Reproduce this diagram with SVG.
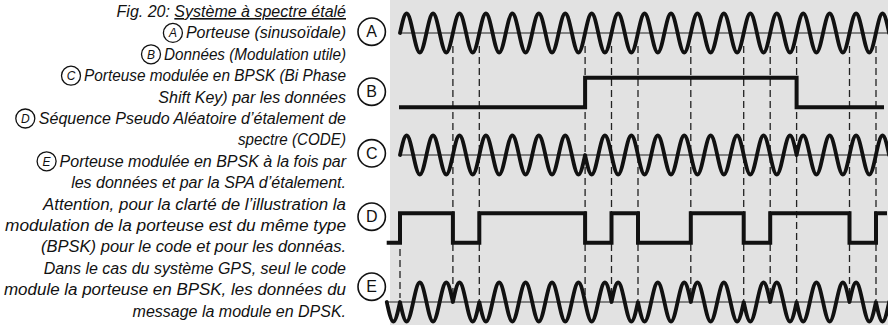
<svg xmlns="http://www.w3.org/2000/svg" width="888" height="325" viewBox="0 0 888 325">
<style>
.cap{font-family:"Liberation Sans",Arial,sans-serif;font-style:italic;font-size:16px;fill:#111;text-anchor:end}
.cl{font-family:"Liberation Sans",Arial,sans-serif;font-style:italic;font-size:12px;fill:#111;text-anchor:middle}
.lbl{font-family:"Liberation Sans",Arial,sans-serif;font-size:16px;fill:#111;text-anchor:middle}
.ring{fill:none;stroke:#111;stroke-width:1.6}
.ringS{fill:none;stroke:#111;stroke-width:1.3}
.wave{fill:none;stroke:#111;stroke-width:3.8;stroke-linejoin:round;stroke-linecap:round}
.sq{fill:none;stroke:#111;stroke-width:4;stroke-linejoin:miter}
.base{stroke:#222;stroke-width:1.2}
.dash{stroke:#222;stroke-width:1.3;stroke-dasharray:7 4}
</style>
<rect x="390" y="0" width="498" height="325" fill="#e2e2e2"/>
<g id="caption">
<text class="cap" x="346" y="17">Fig. 20: <tspan text-decoration="underline">Système à spectre étalé</tspan></text>
<circle class="ringS" cx="172.9" cy="32.9" r="9.5"/><text class="cl" x="172.9" y="37.2">A</text>
<text class="cap" x="346" y="38.4">Porteuse (sinusoïdale)</text>
<circle class="ringS" cx="151" cy="54.3" r="9.5"/><text class="cl" x="151" y="58.6">B</text>
<text class="cap" x="346" y="59.8" textLength="182" lengthAdjust="spacingAndGlyphs">Données (Modulation utile)</text>
<circle class="ringS" cx="71" cy="75.7" r="9.5"/><text class="cl" x="71" y="80">C</text>
<text class="cap" x="346" y="81.2" textLength="262" lengthAdjust="spacingAndGlyphs">Porteuse modulée en BPSK (Bi Phase</text>
<text class="cap" x="346" y="102.6">Shift Key) par les données</text>
<circle class="ringS" cx="25.3" cy="118.5" r="9.5"/><text class="cl" x="25.3" y="122.8">D</text>
<text class="cap" x="346" y="124">Séquence Pseudo Aléatoire d’étalement de</text>
<text class="cap" x="346" y="145.4" textLength="108" lengthAdjust="spacingAndGlyphs">spectre (CODE)</text>
<circle class="ringS" cx="46.6" cy="161.3" r="9.5"/><text class="cl" x="46.6" y="165.6">E</text>
<text class="cap" x="346" y="166.8">Porteuse modulée en BPSK à la fois par</text>
<text class="cap" x="346" y="188.2">les données et par la SPA d’étalement.</text>
<text class="cap" x="346" y="209.6" textLength="303" lengthAdjust="spacingAndGlyphs">Attention, pour la clarté de l’illustration la</text>
<text class="cap" x="346" y="231" textLength="341" lengthAdjust="spacingAndGlyphs">modulation de la porteuse est du même type</text>
<text class="cap" x="346" y="252.4" textLength="305" lengthAdjust="spacingAndGlyphs">(BPSK) pour le code et pour les donnéas.</text>
<text class="cap" x="346" y="273.8">Dans le cas du système GPS, seul le code</text>
<text class="cap" x="346" y="295.2" textLength="342" lengthAdjust="spacingAndGlyphs">module la porteuse en BPSK, les données du</text>
<text class="cap" x="346" y="316.6">message la module en DPSK.</text>
</g>
<g id="labelA"><circle class="ring" cx="371.7" cy="31.7" r="13.7"/><text class="lbl" x="371.7" y="37.4">A</text></g>
<g id="labelB"><circle class="ring" cx="371.7" cy="91.7" r="13.7"/><text class="lbl" x="371.7" y="97.4">B</text></g>
<g id="labelC"><circle class="ring" cx="371.7" cy="153.3" r="13.7"/><text class="lbl" x="371.7" y="159">C</text></g>
<g id="labelD"><circle class="ring" cx="371.7" cy="216.7" r="13.7"/><text class="lbl" x="371.7" y="222.4">D</text></g>
<g id="labelE"><circle class="ring" cx="371.7" cy="286.7" r="13.7"/><text class="lbl" x="371.7" y="292.4">E</text></g>
<g id="connectors">
<line class="dash" x1="400" y1="249" x2="400" y2="298"/>
<line class="dash" x1="452.9" y1="46" x2="452.9" y2="300"/>
<line class="dash" x1="479.3" y1="46" x2="479.3" y2="300"/>
<line class="dash" x1="585.1" y1="46" x2="585.1" y2="300"/>
<line class="dash" x1="611.5" y1="46" x2="611.5" y2="300"/>
<line class="dash" x1="638" y1="46" x2="638" y2="300"/>
<line class="dash" x1="690.8" y1="46" x2="690.8" y2="300"/>
<line class="dash" x1="743.7" y1="46" x2="743.7" y2="300"/>
<line class="dash" x1="770.2" y1="46" x2="770.2" y2="300"/>
<line class="dash" x1="796.6" y1="46" x2="796.6" y2="300"/>
<line class="dash" x1="849.5" y1="46" x2="849.5" y2="300"/>
<line class="dash" x1="876" y1="46" x2="876" y2="300"/>
</g>
<g id="traceA">
<line class="base" x1="399" y1="33" x2="888" y2="33"/>
<path class="wave" d="M400,33
c2.16,-9.99 4.22,-19.5 6.61,-19.5 c2.39,0 4.45,9.51 6.61,19.5 c2.16,9.99 4.22,19.5 6.61,19.5 c2.39,0 4.45,-9.51 6.61,-19.5
c2.16,-9.99 4.22,-19.5 6.61,-19.5 c2.39,0 4.45,9.51 6.61,19.5 c2.16,9.99 4.22,19.5 6.61,19.5 c2.39,0 4.45,-9.51 6.61,-19.5
c2.16,-9.99 4.22,-19.5 6.61,-19.5 c2.39,0 4.45,9.51 6.61,19.5 c2.16,9.99 4.22,19.5 6.61,19.5 c2.39,0 4.45,-9.51 6.61,-19.5
c2.16,-9.99 4.22,-19.5 6.61,-19.5 c2.39,0 4.45,9.51 6.61,19.5 c2.16,9.99 4.22,19.5 6.61,19.5 c2.39,0 4.45,-9.51 6.61,-19.5
c2.16,-9.99 4.22,-19.5 6.61,-19.5 c2.39,0 4.45,9.51 6.61,19.5 c2.16,9.99 4.22,19.5 6.61,19.5 c2.39,0 4.45,-9.51 6.61,-19.5
c2.16,-9.99 4.22,-19.5 6.61,-19.5 c2.39,0 4.45,9.51 6.61,19.5 c2.16,9.99 4.22,19.5 6.61,19.5 c2.39,0 4.45,-9.51 6.61,-19.5
c2.16,-9.99 4.22,-19.5 6.61,-19.5 c2.39,0 4.45,9.51 6.61,19.5 c2.16,9.99 4.22,19.5 6.61,19.5 c2.39,0 4.45,-9.51 6.61,-19.5
c2.16,-9.99 4.22,-19.5 6.61,-19.5 c2.39,0 4.45,9.51 6.61,19.5 c2.16,9.99 4.22,19.5 6.61,19.5 c2.39,0 4.45,-9.51 6.61,-19.5
c2.16,-9.99 4.22,-19.5 6.61,-19.5 c2.39,0 4.45,9.51 6.61,19.5 c2.16,9.99 4.22,19.5 6.61,19.5 c2.39,0 4.45,-9.51 6.61,-19.5
c2.16,-9.99 4.22,-19.5 6.61,-19.5 c2.39,0 4.45,9.51 6.61,19.5 c2.16,9.99 4.22,19.5 6.61,19.5 c2.39,0 4.45,-9.51 6.61,-19.5
c2.16,-9.99 4.22,-19.5 6.61,-19.5 c2.39,0 4.45,9.51 6.61,19.5 c2.16,9.99 4.22,19.5 6.61,19.5 c2.39,0 4.45,-9.51 6.61,-19.5
c2.16,-9.99 4.22,-19.5 6.61,-19.5 c2.39,0 4.45,9.51 6.61,19.5 c2.16,9.99 4.22,19.5 6.61,19.5 c2.39,0 4.45,-9.51 6.61,-19.5
c2.16,-9.99 4.22,-19.5 6.61,-19.5 c2.39,0 4.45,9.51 6.61,19.5 c2.16,9.99 4.22,19.5 6.61,19.5 c2.39,0 4.45,-9.51 6.61,-19.5
c2.16,-9.99 4.22,-19.5 6.61,-19.5 c2.39,0 4.45,9.51 6.61,19.5 c2.16,9.99 4.22,19.5 6.61,19.5 c2.39,0 4.45,-9.51 6.61,-19.5
c2.16,-9.99 4.22,-19.5 6.61,-19.5 c2.39,0 4.45,9.51 6.61,19.5 c2.16,9.99 4.22,19.5 6.61,19.5 c2.39,0 4.45,-9.51 6.61,-19.5
c2.16,-9.99 4.22,-19.5 6.61,-19.5 c2.39,0 4.45,9.51 6.61,19.5 c2.16,9.99 4.22,19.5 6.61,19.5 c2.39,0 4.45,-9.51 6.61,-19.5
c2.16,-9.99 4.22,-19.5 6.61,-19.5 c2.39,0 4.45,9.51 6.61,19.5 c2.16,9.99 4.22,19.5 6.61,19.5 c2.39,0 4.45,-9.51 6.61,-19.5
c2.16,-9.99 4.22,-19.5 6.61,-19.5 c2.39,0 4.45,9.51 6.61,19.5 c2.16,9.99 4.22,19.5 6.61,19.5 c2.39,0 4.45,-9.51 6.61,-19.5
c2.16,-9.99 4.22,-19.5 6.61,-19.5 c2.39,0 4.45,9.51 6.61,19.5"/>
</g>
<g id="traceB">
<path class="sq" d="M399,107.3 H585.1 V77.7 H796.6 V107.3 H884"/>
</g>
<g id="traceC">
<line class="base" x1="399" y1="155" x2="888" y2="155"/>
<path class="wave" d="M400,155
c2.16,-9.99 4.22,-19.5 6.61,-19.5 c2.39,0 4.45,9.51 6.61,19.5 c2.16,9.99 4.22,19.5 6.61,19.5 c2.39,0 4.45,-9.51 6.61,-19.5
c2.16,-9.99 4.22,-19.5 6.61,-19.5 c2.39,0 4.45,9.51 6.61,19.5 c2.16,9.99 4.22,19.5 6.61,19.5 c2.39,0 4.45,-9.51 6.61,-19.5
c2.16,-9.99 4.22,-19.5 6.61,-19.5 c2.39,0 4.45,9.51 6.61,19.5 c2.16,9.99 4.22,19.5 6.61,19.5 c2.39,0 4.45,-9.51 6.61,-19.5
c2.16,-9.99 4.22,-19.5 6.61,-19.5 c2.39,0 4.45,9.51 6.61,19.5 c2.16,9.99 4.22,19.5 6.61,19.5 c2.39,0 4.45,-9.51 6.61,-19.5
c2.16,-9.99 4.22,-19.5 6.61,-19.5 c2.39,0 4.45,9.51 6.61,19.5 c2.16,9.99 4.22,19.5 6.61,19.5 c2.39,0 4.45,-9.51 6.61,-19.5
c2.16,-9.99 4.22,-19.5 6.61,-19.5 c2.39,0 4.45,9.51 6.61,19.5 c2.16,9.99 4.22,19.5 6.61,19.5 c2.39,0 4.45,-9.51 6.61,-19.5
c2.16,-9.99 4.22,-19.5 6.61,-19.5 c2.39,0 4.45,9.51 6.61,19.5 c2.16,9.99 4.22,19.5 6.61,19.5 c2.39,0 4.45,-9.51 6.61,-19.5
c2.16,9.99 4.22,19.5 6.61,19.5 c2.39,0 4.45,-9.51 6.61,-19.5 c2.16,-9.99 4.22,-19.5 6.61,-19.5 c2.39,0 4.45,9.51 6.61,19.5
c2.16,9.99 4.22,19.5 6.61,19.5 c2.39,0 4.45,-9.51 6.61,-19.5 c2.16,-9.99 4.22,-19.5 6.61,-19.5 c2.39,0 4.45,9.51 6.61,19.5
c2.16,9.99 4.22,19.5 6.61,19.5 c2.39,0 4.45,-9.51 6.61,-19.5 c2.16,-9.99 4.22,-19.5 6.61,-19.5 c2.39,0 4.45,9.51 6.61,19.5
c2.16,9.99 4.22,19.5 6.61,19.5 c2.39,0 4.45,-9.51 6.61,-19.5 c2.16,-9.99 4.22,-19.5 6.61,-19.5 c2.39,0 4.45,9.51 6.61,19.5
c2.16,9.99 4.22,19.5 6.61,19.5 c2.39,0 4.45,-9.51 6.61,-19.5 c2.16,-9.99 4.22,-19.5 6.61,-19.5 c2.39,0 4.45,9.51 6.61,19.5
c2.16,9.99 4.22,19.5 6.61,19.5 c2.39,0 4.45,-9.51 6.61,-19.5 c2.16,-9.99 4.22,-19.5 6.61,-19.5 c2.39,0 4.45,9.51 6.61,19.5
c2.16,9.99 4.22,19.5 6.61,19.5 c2.39,0 4.45,-9.51 6.61,-19.5 c2.16,-9.99 4.22,-19.5 6.61,-19.5 c2.39,0 4.45,9.51 6.61,19.5
c2.16,9.99 4.22,19.5 6.61,19.5 c2.39,0 4.45,-9.51 6.61,-19.5 c2.16,-9.99 4.22,-19.5 6.61,-19.5 c2.39,0 4.45,9.51 6.61,19.5
c2.16,-9.99 4.22,-19.5 6.61,-19.5 c2.39,0 4.45,9.51 6.61,19.5 c2.16,9.99 4.22,19.5 6.61,19.5 c2.39,0 4.45,-9.51 6.61,-19.5
c2.16,-9.99 4.22,-19.5 6.61,-19.5 c2.39,0 4.45,9.51 6.61,19.5 c2.16,9.99 4.22,19.5 6.61,19.5 c2.39,0 4.45,-9.51 6.61,-19.5
c2.16,-9.99 4.22,-19.5 6.61,-19.5 c2.39,0 4.45,9.51 6.61,19.5 c2.16,9.99 4.22,19.5 6.61,19.5 c2.39,0 4.45,-9.51 6.61,-19.5
c2.16,-9.99 4.22,-19.5 6.61,-19.5 c2.39,0 4.45,9.51 6.61,19.5"/>
</g>
<g id="traceD">
<path class="sq" d="M386.7,242.7 H400 V213.3 H452.9 V242.7 H479.3 V213.3 H585.1 V242.7 H611.5 V213.3 H638 V242.7 H690.8 V213.3 H743.7 V242.7 H770.2 V213.3 H849.5 V242.7 H876 V213.3 H887"/>
</g>
<g id="traceE">
<line class="base" x1="386.7" y1="302" x2="888" y2="302"/>
<path class="wave" d="M386.78,302
c2.16,9.99 4.22,19.5 6.61,19.5 c2.39,0 4.45,-9.51 6.61,-19.5
c2.16,9.99 4.22,19.5 6.61,19.5 c2.39,0 4.45,-9.51 6.61,-19.5 c2.16,-9.99 4.22,-19.5 6.61,-19.5 c2.39,0 4.45,9.51 6.61,19.5
c2.16,9.99 4.22,19.5 6.61,19.5 c2.39,0 4.45,-9.51 6.61,-19.5 c2.16,-9.99 4.22,-19.5 6.61,-19.5 c2.39,0 4.45,9.51 6.61,19.5
c2.16,-9.99 4.22,-19.5 6.61,-19.5 c2.39,0 4.45,9.51 6.61,19.5 c2.16,9.99 4.22,19.5 6.61,19.5 c2.39,0 4.45,-9.51 6.61,-19.5
c2.16,9.99 4.22,19.5 6.61,19.5 c2.39,0 4.45,-9.51 6.61,-19.5 c2.16,-9.99 4.22,-19.5 6.61,-19.5 c2.39,0 4.45,9.51 6.61,19.5
c2.16,9.99 4.22,19.5 6.61,19.5 c2.39,0 4.45,-9.51 6.61,-19.5 c2.16,-9.99 4.22,-19.5 6.61,-19.5 c2.39,0 4.45,9.51 6.61,19.5
c2.16,9.99 4.22,19.5 6.61,19.5 c2.39,0 4.45,-9.51 6.61,-19.5 c2.16,-9.99 4.22,-19.5 6.61,-19.5 c2.39,0 4.45,9.51 6.61,19.5
c2.16,9.99 4.22,19.5 6.61,19.5 c2.39,0 4.45,-9.51 6.61,-19.5 c2.16,-9.99 4.22,-19.5 6.61,-19.5 c2.39,0 4.45,9.51 6.61,19.5
c2.16,9.99 4.22,19.5 6.61,19.5 c2.39,0 4.45,-9.51 6.61,-19.5 c2.16,-9.99 4.22,-19.5 6.61,-19.5 c2.39,0 4.45,9.51 6.61,19.5
c2.16,-9.99 4.22,-19.5 6.61,-19.5 c2.39,0 4.45,9.51 6.61,19.5 c2.16,9.99 4.22,19.5 6.61,19.5 c2.39,0 4.45,-9.51 6.61,-19.5
c2.16,9.99 4.22,19.5 6.61,19.5 c2.39,0 4.45,-9.51 6.61,-19.5 c2.16,-9.99 4.22,-19.5 6.61,-19.5 c2.39,0 4.45,9.51 6.61,19.5
c2.16,9.99 4.22,19.5 6.61,19.5 c2.39,0 4.45,-9.51 6.61,-19.5 c2.16,-9.99 4.22,-19.5 6.61,-19.5 c2.39,0 4.45,9.51 6.61,19.5
c2.16,-9.99 4.22,-19.5 6.61,-19.5 c2.39,0 4.45,9.51 6.61,19.5 c2.16,9.99 4.22,19.5 6.61,19.5 c2.39,0 4.45,-9.51 6.61,-19.5
c2.16,-9.99 4.22,-19.5 6.61,-19.5 c2.39,0 4.45,9.51 6.61,19.5 c2.16,9.99 4.22,19.5 6.61,19.5 c2.39,0 4.45,-9.51 6.61,-19.5
c2.16,9.99 4.22,19.5 6.61,19.5 c2.39,0 4.45,-9.51 6.61,-19.5 c2.16,-9.99 4.22,-19.5 6.61,-19.5 c2.39,0 4.45,9.51 6.61,19.5
c2.16,-9.99 4.22,-19.5 6.61,-19.5 c2.39,0 4.45,9.51 6.61,19.5 c2.16,9.99 4.22,19.5 6.61,19.5 c2.39,0 4.45,-9.51 6.61,-19.5
c2.16,9.99 4.22,19.5 6.61,19.5 c2.39,0 4.45,-9.51 6.61,-19.5 c2.16,-9.99 4.22,-19.5 6.61,-19.5 c2.39,0 4.45,9.51 6.61,19.5
c2.16,9.99 4.22,19.5 6.61,19.5 c2.39,0 4.45,-9.51 6.61,-19.5 c2.16,-9.99 4.22,-19.5 6.61,-19.5 c2.39,0 4.45,9.51 6.61,19.5
c2.16,-9.99 4.22,-19.5 6.61,-19.5 c2.39,0 4.45,9.51 6.61,19.5 c2.16,9.99 4.22,19.5 6.61,19.5 c2.39,0 4.45,-9.51 6.61,-19.5
c2.16,9.99 4.22,19.5 6.61,19.5 c2.39,0 4.45,-9.51 6.61,-19.5"/>
</g>
</svg>
